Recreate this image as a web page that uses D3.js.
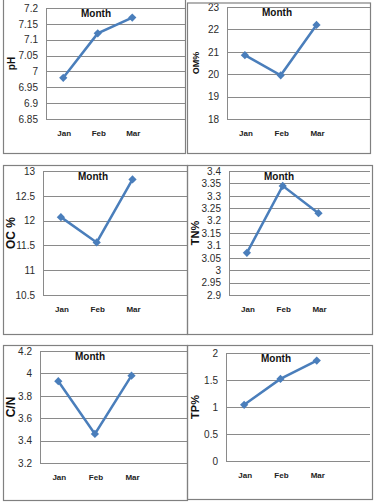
<!DOCTYPE html>
<html>
<head>
<meta charset="utf-8">
<script src="https://cdn.jsdelivr.net/npm/d3@7"></script>
<style>
  body { margin: 0; background: #fff; }
  svg { display: block; font-family: "Liberation Sans", Arial, sans-serif; }
</style>
</head>
<body>
<script>
// Chart values
const months = ["Jan", "Feb", "Mar"];

const phValues = [6.98, 7.12, 7.17];
const omValues = [20.85, 19.95, 22.2];
const ocValues = [12.07, 11.56, 12.83];
const tnValues = [3.07, 3.34, 3.23];
const cnValues = [3.93, 3.46, 3.98];
const tpValues = [1.04, 1.52, 1.86];

const phTicks = [6.85, 6.9, 6.95, 7, 7.05, 7.1, 7.15, 7.2];
const omTicks = [18, 19, 20, 21, 22, 23];
const ocTicks = [10.5, 11, 11.5, 12, 12.5, 13];
const tnTicks = [2.9, 2.95, 3, 3.05, 3.1, 3.15, 3.2, 3.25, 3.3, 3.35, 3.4];
const cnTicks = [3.2, 3.4, 3.6, 3.8, 4, 4.2];
const tpTicks = [0, 0.5, 1, 1.5, 2];

const yLabels = ["pH", "OM%", "OC %", "TN%", "C/N", "TP%"];
const titleText = "Month";

// Panel frames and plot areas (layout only)
const panels = [
  { values: phValues, ticks: phTicks, label: yLabels[0], box: [3, -2, 185, 153], plot: [46, 8, 185, 119], band: 34.5, labelSize: 10 },
  { values: omValues, ticks: omTicks, label: yLabels[1], box: [187, 2.5, 370, 153], plot: [227, 7, 370, 119], band: 35.8, labelSize: 9 },
  { values: ocValues, ticks: ocTicks, label: yLabels[2], box: [3, 165, 187, 334], plot: [43, 171, 187, 295], band: 35.8, labelSize: 12 },
  { values: tnValues, ticks: tnTicks, label: yLabels[3], box: [187, 165, 372, 334], plot: [229, 171, 370, 295], band: 35.8, labelSize: 11 },
  { values: cnValues, ticks: cnTicks, label: yLabels[4], box: [3, 345, 187, 500], plot: [40, 351, 187, 463], band: 36.6, labelSize: 12 },
  { values: tpValues, ticks: tpTicks, label: yLabels[5], box: [187, 345, 372, 499], plot: [226, 353, 370, 461], band: 36.3, labelSize: 11 }
];

const lineColor = "#4a7ebb";
const gridColor = "#8a8a8a";

const svg = d3.select("body").append("svg")
  .attr("width", 380)
  .attr("height", 503);

panels.forEach(p => {
  const [bx0, by0, bx1, by1] = p.box;
  const [left, top, right, bottom] = p.plot;
  const g = svg.append("g");

  const y = d3.scaleLinear()
    .domain([p.ticks[0], p.ticks[p.ticks.length - 1]])
    .range([bottom, top]);

  const x = d3.scaleBand()
    .domain(months)
    .range([left, left + p.band * months.length])
    .padding(0);

  // gridlines
  g.selectAll("line.grid")
    .data(p.ticks)
    .enter()
    .append("line")
    .attr("x1", left)
    .attr("x2", right)
    .attr("y1", d => Math.round(y(d)) + 0.5)
    .attr("y2", d => Math.round(y(d)) + 0.5)
    .style("stroke", gridColor)
    .style("stroke-width", 1);

  // value axis line
  g.append("line")
    .attr("x1", Math.round(left) + 0.5)
    .attr("x2", Math.round(left) + 0.5)
    .attr("y1", top)
    .attr("y2", bottom)
    .style("stroke", gridColor);

  // y tick labels
  const yAxis = d3.axisLeft(y)
    .tickValues(p.ticks)
    .tickSize(0)
    .tickPadding(8)
    .tickFormat(d => String(+d.toFixed(2)));

  const ya = g.append("g")
    .attr("transform", `translate(${left},0)`)
    .call(yAxis);
  ya.select(".domain").remove();
  ya.selectAll("text")
    .style("font-size", "10px")
    .style("font-family", "\"Liberation Sans\", Arial, sans-serif")
    .style("fill", "#2b2b2b");

  // x category labels
  const xAxis = d3.axisBottom(x).tickSize(0).tickPadding(11);
  const xa = g.append("g")
    .attr("transform", `translate(1,${bottom})`)
    .call(xAxis);
  xa.select(".domain").remove();
  xa.selectAll("text")
    .style("font-size", "8px")
    .style("font-weight", "bold")
    .style("font-family", "\"Liberation Sans\", Arial, sans-serif")
    .style("fill", "#222");

  // panel frame
  g.append("rect")
    .attr("x", bx0 + 0.5)
    .attr("y", by0 + 0.5)
    .attr("width", bx1 - bx0)
    .attr("height", by1 - by0)
    .style("fill", "none")
    .style("stroke", "#808080")
    .style("stroke-width", 1.2);

  // title
  g.append("text")
    .attr("x", left + 50)
    .attr("y", top + 9)
    .attr("text-anchor", "middle")
    .style("font-size", "10px")
    .style("font-weight", "bold")
    .style("fill", "#111")
    .text(titleText);

  // y label
  g.append("text")
    .attr("transform", `translate(${bx0 + 12},${(top + bottom) / 2}) rotate(-90)`)
    .attr("text-anchor", "middle")
    .style("font-size", p.labelSize + "px")
    .style("font-weight", "bold")
    .style("fill", "#111")
    .text(p.label);

  // series line
  const line = d3.line()
    .x((d, i) => x(months[i]) + x.bandwidth() / 2)
    .y(d => y(d));

  g.append("path")
    .datum(p.values)
    .attr("d", line)
    .style("fill", "none")
    .style("stroke", lineColor)
    .style("stroke-width", 2.5);

  // diamond markers
  g.selectAll("path.marker")
    .data(p.values)
    .enter()
    .append("path")
    .attr("d", d3.symbol().type(d3.symbolSquare).size(34))
    .attr("transform", (d, i) => `translate(${x(months[i]) + x.bandwidth() / 2},${y(d)}) rotate(45)`)
    .style("fill", lineColor);
});
</script>
</body>
</html>
